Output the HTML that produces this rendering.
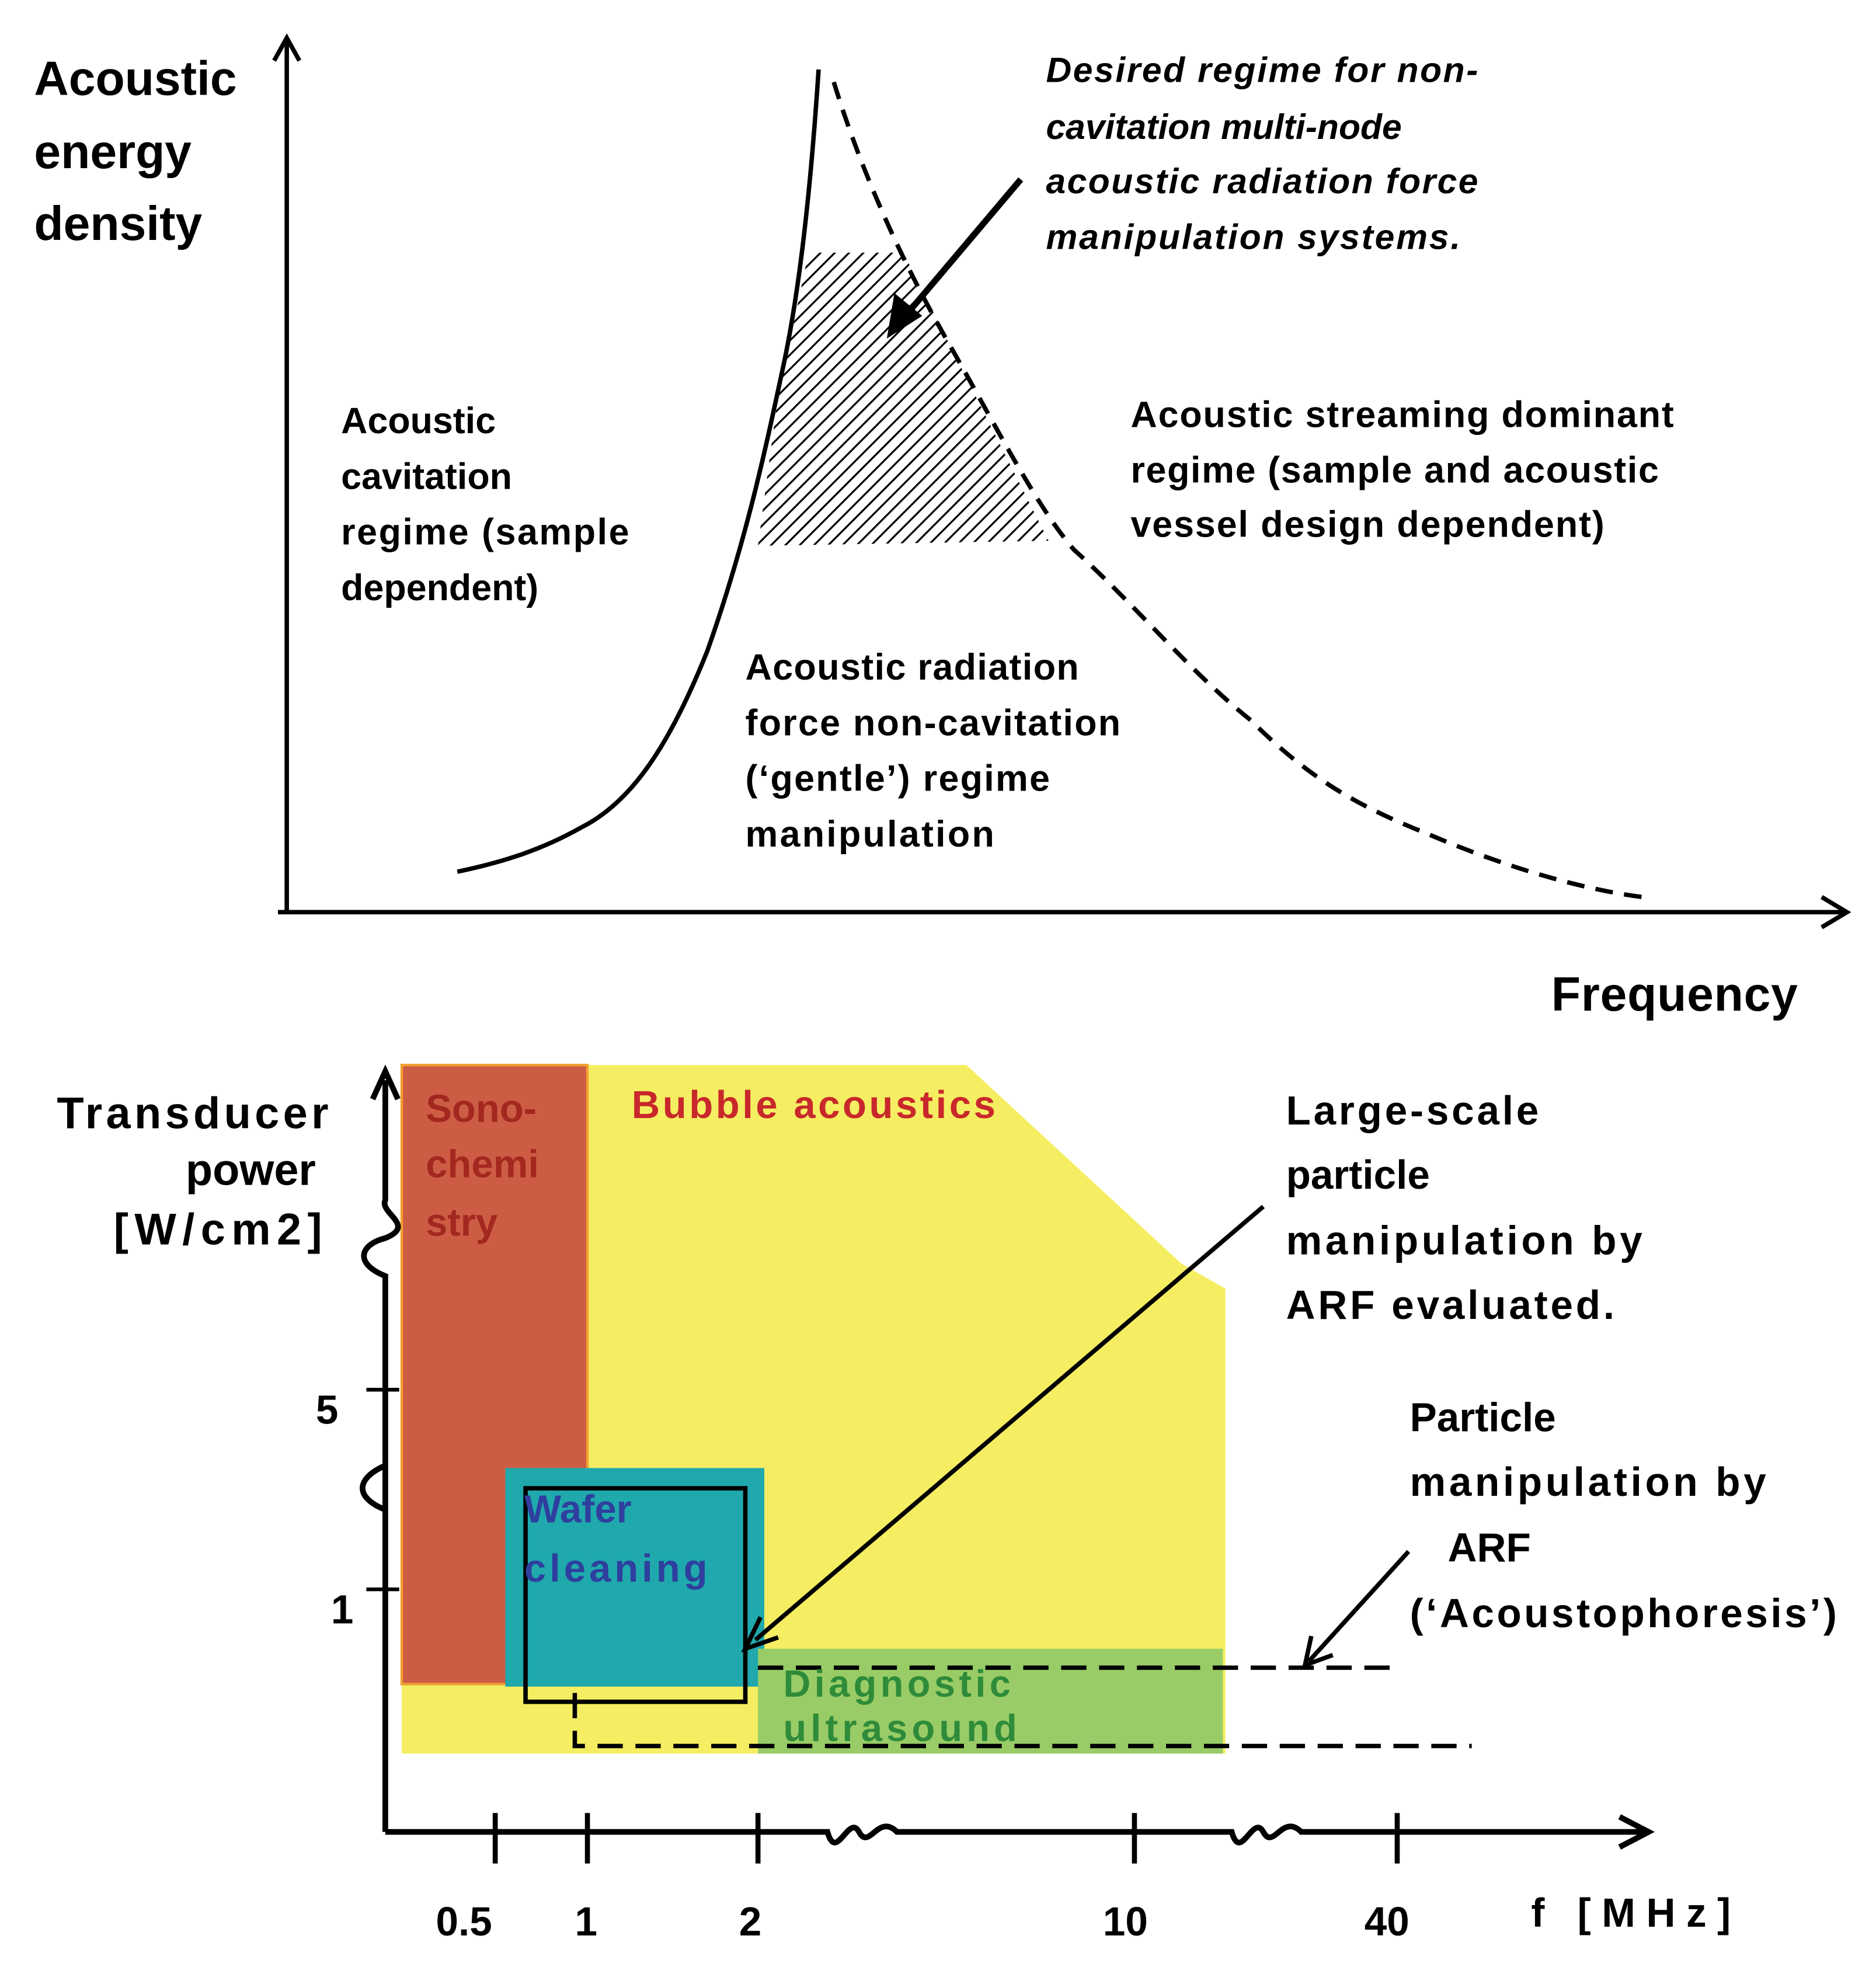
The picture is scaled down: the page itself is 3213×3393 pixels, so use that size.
<!DOCTYPE html>
<html><head><meta charset="utf-8"><style>
html,body{margin:0;padding:0;background:#fff;}
svg{display:block;}
text{font-family:"Liberation Sans",sans-serif;font-weight:bold;}
</style></head><body>
<svg width="3213" height="3393" viewBox="0 0 1485 1568" preserveAspectRatio="none" xmlns="http://www.w3.org/2000/svg">
<defs>
<pattern id="h" width="8" height="8" patternUnits="userSpaceOnUse" patternTransform="rotate(45)">
<rect width="8" height="8" fill="#fff"/><line x1="0" y1="0" x2="0" y2="8" stroke="#000" stroke-width="3"/>
</pattern>
</defs>
<!-- top chart -->
<line x1="227" y1="32" x2="227" y2="722" stroke="#000" stroke-width="3.5"/>
<polyline points="217,48 227,30 237,48" fill="none" stroke="#000" stroke-width="3.5"/>
<line x1="220" y1="722" x2="1460" y2="722" stroke="#000" stroke-width="3.5"/>
<polyline points="1442,710 1462,722 1442,734" fill="none" stroke="#000" stroke-width="3.5"/>
<polygon points="640,200 715,200 830,428 600,432 615,320" fill="url(#h)"/>
<path d="M362,690 C400,682 430,672 460,655 C500,635 530,590 560,515 C590,430 605,360 620,290 C635,220 643,130 648,55" fill="none" stroke="#000" stroke-width="3.5"/>
<path d="M660,65 C680,130 710,200 750,270 C790,340 820,400 850,435 C900,480 940,530 990,570 C1040,620 1080,640 1130,660 C1200,690 1260,705 1300,710" fill="none" stroke="#000" stroke-width="3.5" stroke-dasharray="14,9"/>
<line x1="808" y1="142" x2="715" y2="252" stroke="#000" stroke-width="5"/>
<polygon points="702,268 708,232 730,250" fill="#000"/>
<g font-size="38"><text x="27" y="75">Acoustic</text><text x="27" y="133">energy</text><text x="27" y="190">density</text><text x="1228" y="800" textLength="195">Frequency</text></g>
<g font-size="28" font-style="italic"><text x="828" y="65" textLength="342">Desired regime for non-</text><text x="828" y="110">cavitation multi-node</text><text x="828" y="153" textLength="342">acoustic radiation force</text><text x="828" y="197" textLength="328">manipulation  systems.</text></g>
<g font-size="29"><text x="270" y="343">Acoustic</text><text x="270" y="387">cavitation</text><text x="270" y="431" textLength="228">regime (sample</text><text x="270" y="475">dependent)</text>
<text x="895" y="338" textLength="430">Acoustic streaming dominant</text><text x="895" y="382" textLength="418">regime (sample and acoustic</text><text x="895" y="425" textLength="375">vessel design dependent)</text>
<text x="590" y="538" textLength="264">Acoustic radiation</text><text x="590" y="582" textLength="297">force non-cavitation</text><text x="590" y="626" textLength="241">(‘gentle’) regime</text><text x="590" y="670" textLength="197">manipulation</text></g>
<!-- bottom chart -->
<polygon points="318,843 765,843 935,1000 970,1020 970,1388 318,1388" fill="#f5ee62"/>
<rect x="318" y="843" width="147" height="490" fill="#cd5c45" stroke="#f0a030" stroke-width="2"/>
<rect x="400" y="1162" width="205" height="173" fill="#1fa9ad"/>
<rect x="600" y="1305" width="368" height="83" fill="#99cc66"/>
<rect x="416" y="1178" width="174" height="169" fill="none" stroke="#000" stroke-width="3.5"/>
<line x1="600" y1="1320" x2="1100" y2="1320" stroke="#000" stroke-width="3.5" stroke-dasharray="20,10"/>
<polyline points="455,1340 455,1382 1165,1382" fill="none" stroke="#000" stroke-width="3.5" stroke-dasharray="20,10"/>
<path d="M305,1450 L305,1010 C280,1000 285,985 305,980 C330,970 300,960 305,950 L305,855" fill="none" stroke="#000" stroke-width="4.5"/>
<path d="M305,1195 C280,1185 282,1170 305,1160" fill="none" stroke="#000" stroke-width="4.5"/>
<polyline points="295,870 305,848 315,870" fill="none" stroke="#000" stroke-width="4.5"/>
<line x1="290" y1="1100" x2="316" y2="1100" stroke="#000" stroke-width="3"/>
<line x1="290" y1="1258" x2="316" y2="1258" stroke="#000" stroke-width="3"/>
<path d="M305,1450 L655,1450 C662,1475 672,1435 680,1450 C688,1465 695,1435 710,1450 L975,1450 C982,1475 992,1435 1000,1450 C1008,1465 1015,1435 1030,1450 L1300,1450" fill="none" stroke="#000" stroke-width="4.5"/>
<polyline points="1282,1438 1305,1450 1282,1462" fill="none" stroke="#000" stroke-width="4.5"/>
<g stroke="#000" stroke-width="4"><line x1="392" y1="1435" x2="392" y2="1475"/><line x1="465" y1="1435" x2="465" y2="1475"/><line x1="600" y1="1435" x2="600" y2="1475"/><line x1="898" y1="1435" x2="898" y2="1475"/><line x1="1106" y1="1435" x2="1106" y2="1475"/></g>
<g font-size="32"><text x="345" y="1532">0.5</text><text x="455" y="1532">1</text><text x="585" y="1532">2</text><text x="873" y="1532">10</text><text x="1080" y="1532">40</text><text x="1212" y="1525" textLength="158">f  [MHz]</text>
<text x="250" y="1127">5</text><text x="262" y="1285">1</text></g>
<g font-size="35" text-anchor="end"><text x="260" y="893" textLength="215">Transducer</text><text x="250" y="938">power</text><text x="255" y="985" textLength="165">[W/cm2]</text></g>
<g font-size="31" fill="#a3281f"><text x="337" y="888">Sono-</text><text x="337" y="932">chemi</text><text x="337" y="978">stry</text></g>
<text x="500" y="885" font-size="31" fill="#c8282b" textLength="288">Bubble acoustics</text>
<g font-size="31" fill="#2e3f9e"><text x="415" y="1205">Wafer</text><text x="415" y="1252" textLength="145">cleaning</text></g>
<g font-size="30" fill="#2e8b3a"><text x="620" y="1343" textLength="180">Diagnostic</text><text x="620" y="1378" textLength="185">ultrasound</text></g>
<g font-size="32"><text x="1018" y="890" textLength="200">Large-scale</text><text x="1018" y="941">particle</text><text x="1018" y="993" textLength="282">manipulation by</text><text x="1018" y="1044" textLength="260">ARF evaluated.</text>
<text x="1116" y="1133">Particle</text><text x="1116" y="1184" textLength="282">manipulation by</text><text x="1146" y="1236">ARF</text><text x="1116" y="1288" textLength="338">(‘Acoustophoresis’)</text></g>
<line x1="1000" y1="955" x2="598" y2="1298" stroke="#000" stroke-width="3.5"/>
<polyline points="602,1280 590,1305 616,1296" fill="none" stroke="#000" stroke-width="3.5"/>
<line x1="1115" y1="1228" x2="1036" y2="1315" stroke="#000" stroke-width="3.5"/>
<polyline points="1038,1295 1033,1318 1055,1310" fill="none" stroke="#000" stroke-width="3.5"/>
</svg>
</body></html>
